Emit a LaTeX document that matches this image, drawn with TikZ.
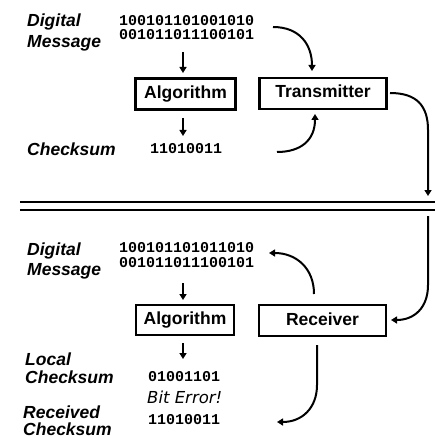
\documentclass[tikz,border=0pt]{standalone}
\usepackage{fontspec}
\setmainfont{Liberation Sans}
\newfontfamily\monof{Liberation Mono}
\newfontfamily\errf{DejaVu Sans}
\usetikzlibrary{arrows.meta}
\begin{document}
\begin{tikzpicture}[x=1pt,y=-1pt,
  lbl/.style={anchor=base west,inner sep=0pt,font=\fontsize{17.5}{18}\selectfont\bfseries\itshape},
  bits/.style={anchor=base west,inner sep=0pt,font=\fontsize{15}{15}\selectfont\monof\bfseries},
  errlbl/.style={anchor=base west,inner sep=0pt,font=\fontsize{16.5}{17}\selectfont\errf\itshape},
  box/.style={draw,line width=2.2pt,inner sep=0pt,font=\fontsize{17.5}{18}\selectfont\bfseries,text height=12.5pt,text depth=3.5pt},
  arr/.style={line width=2pt,-{Triangle[length=6pt,width=7pt]}},
  sep/.style={line width=2.5pt}]
\useasboundingbox (0,0) rectangle (435,438);
% ---------- top half ----------
\node[lbl] (dig1) at (27,27) {Digital};
\node[lbl] (msg1) at (27,48) {Message};
\node[bits] (b1a) at (119,26) {100101101001010};
\node[bits] (b1b) at (119,40) {001011011100101};
\node[box,minimum width=100pt,minimum height=31pt] (alg1) at (185.5,94) {Algorithm};
\node[box,minimum width=127pt,minimum height=31pt] (tx) at (323,93.5) {Transmitter};
\node[lbl] (chk1) at (27,156) {Checksum};
\node[bits] (cs1) at (150,154) {11010011};
\coordinate (a1s) at (183,52);
\coordinate (a1e) at (183,73);
\coordinate (a2s) at (183,118);
\coordinate (a2e) at (183,136);
\draw[arr] (a1s) -- (a1e);
\draw[arr] (a2s) -- (a2e);
\coordinate (c1s) at (273,27);
\coordinate (c1e) at (312,71);
\draw[arr] (c1s) .. controls (300,27) and (312,45) .. (c1e);
\coordinate (c2s) at (277,152);
\coordinate (c2e) at (315,114);
\draw[arr] (c2s) .. controls (301,152) and (315,140) .. (c2e);
\coordinate (c3s) at (390,93);
\coordinate (c3m) at (428,130);
\coordinate (c3e) at (428,196);
\draw[arr] (c3s) .. controls (417,93) and (428,106) .. (c3m) -- (c3e);
% ---------- separator ----------
\coordinate (s1l) at (20,202);
\coordinate (s1r) at (435,202);
\coordinate (s2l) at (20,210);
\coordinate (s2r) at (435,210);
\draw[sep] (s1l) -- (s1r);
\draw[sep] (s2l) -- (s2r);
% ---------- bottom half ----------
\node[lbl] (dig2) at (27,255) {Digital};
\node[lbl] (msg2) at (27,275) {Message};
\node[bits] (b2a) at (119,252) {100101101011010};
\node[bits] (b2b) at (119,267) {001011011100101};
\node[box,minimum width=98pt,minimum height=30pt] (alg2) at (185,320) {Algorithm};
\node[box,minimum width=127pt,minimum height=31pt] (rx) at (322.5,320.5) {Receiver};
\node[lbl] (loc) at (25,365) {Local};
\node[lbl] (chk2) at (25,383) {Checksum};
\node[bits] (cs2) at (148,381) {01001101};
\node[errlbl] (err) at (147,403) {Bit Error!};
\node[lbl] (rcv) at (23,418.5) {Received};
\node[lbl] (chk3) at (23,435.5) {Checksum};
\node[bits] (cs3) at (148,424) {11010011};
\coordinate (a3s) at (183,283);
\coordinate (a3e) at (183,300);
\coordinate (a4s) at (183,343);
\coordinate (a4e) at (183,359);
\draw[arr] (a3s) -- (a3e);
\draw[arr] (a4s) -- (a4e);
\coordinate (d1s) at (428,216);
\coordinate (d1m) at (428,285);
\coordinate (d1e) at (391,320);
\draw[arr] (d1s) -- (d1m) .. controls (428,308) and (414,320) .. (d1e);
\coordinate (d2s) at (314,294);
\coordinate (d2e) at (269,253);
\draw[arr] (d2s) .. controls (314,268) and (296,253) .. (d2e);
\coordinate (d3s) at (317,345);
\coordinate (d3m) at (317,385);
\coordinate (d3e) at (277,422);
\draw[arr] (d3s) -- (d3m) .. controls (317,408) and (302,422) .. (d3e);
\end{tikzpicture}
\end{document}
